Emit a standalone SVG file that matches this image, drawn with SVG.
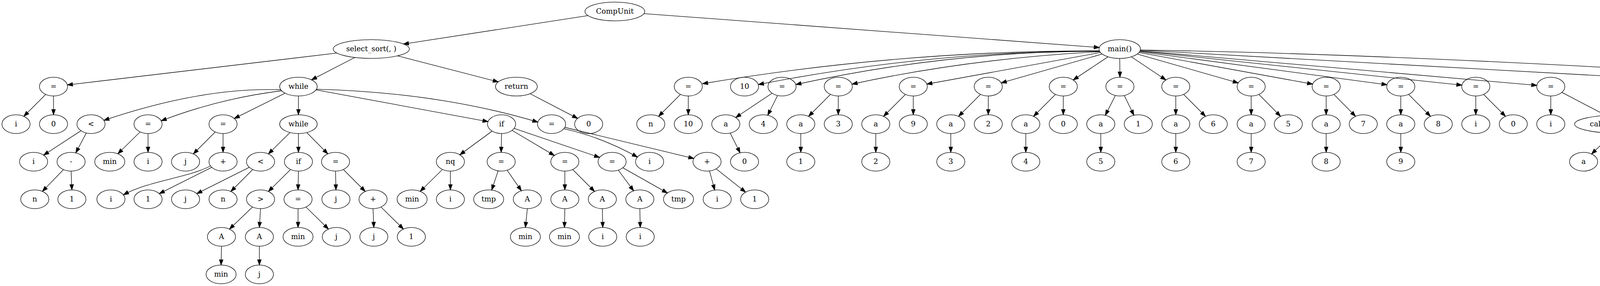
<svg xmlns="http://www.w3.org/2000/svg" width="5221" height="731" viewBox="0 0 5221 731">
<style>
.n ellipse{fill:none;stroke:#000;stroke-width:1.33}
.n text{font-family:"DejaVu Serif",serif;font-size:18.67px;text-anchor:middle;fill:#000}
.e path{fill:none;stroke:#000;stroke-width:1.33;marker-end:url(#ah)}
</style>
<defs>
<marker id="ah" markerUnits="userSpaceOnUse" viewBox="0 0 16 12" markerWidth="16" markerHeight="12" refX="14.33" refY="5.67" orient="auto" overflow="visible">
<path d="M1,1 L14.33,5.67 L1,10.33 Z" fill="#000" stroke="#000" stroke-width="1.33"/>
</marker>
</defs>
<rect width="5221" height="731" fill="#fff"/>
<g id="edges" class="e">
<path d="M1505.3,39.9 L1032.7,112.6"/>
<path d="M1648.5,34.8 L2814.2,121.4"/>
<path d="M862.1,135.7 L172.5,217.1"/>
<path d="M908,147 L797.4,204.1"/>
<path d="M1017.3,142.7 L1275.6,209.3"/>
<path d="M1357,239.5 L1478.6,302.6"/>
<path d="M117,241.3 L61,297.3"/>
<path d="M137,245.3 L137,293.3"/>
<path d="M718.9,229.5 Q520,222 266,307.6"/>
<path d="M721,232 Q560,252 412.7,308.9"/>
<path d="M730,238.2 L599.8,302.9"/>
<path d="M764,245.3 L764,293.3"/>
<path d="M809,229.6 L1249.3,310.9"/>
<path d="M810,228.1 Q1122,236 1376.9,312.1"/>
<path d="M207.3,334.1 L111.7,396.5"/>
<path d="M221,339.9 L194,390.7"/>
<path d="M358.75,337.1 L301.7,393.1"/>
<path d="M379,341.3 L379,389.3"/>
<path d="M551,337.3 L495,393.3"/>
<path d="M571,341.3 L571,389.3"/>
<path d="M742.35,338.7 L687.1,393.4"/>
<path d="M764,341.3 L764,389.3"/>
<path d="M785.3,338.8 L839.2,393.3"/>
<path d="M1259.8,335.1 L1177.2,395.6"/>
<path d="M1284,341.3 L1283,389.3"/>
<path d="M1310.9,333.2 L1419.1,397.4"/>
<path d="M1316.1,328.2 L1534.9,402.4"/>
<path d="M1443.2,329.2 Q1540,350 1631.8,401.4"/>
<path d="M1445.9,325.5 L1776.2,405.1"/>
<path d="M162.5,433.5 L108.5,489.1"/>
<path d="M182,437.3 L184,485.3"/>
<path d="M539,424 C480,455 380,462 316,498"/>
<path d="M542.2,427.7 L407.8,494.9"/>
<path d="M638.2,427.7 L503.8,494.9"/>
<path d="M647,433.3 L591,489.3"/>
<path d="M743.9,433.2 L687.1,489.4"/>
<path d="M764,437.3 L763,485.3"/>
<path d="M859,437.3 L860,485.3"/>
<path d="M879,433.3 L935,489.3"/>
<path d="M1132.75,433.1 L1075.7,489.1"/>
<path d="M1153,437.3 L1153,485.3"/>
<path d="M1275.2,436.7 L1258.8,485.8"/>
<path d="M1298.2,435.1 L1334.8,487.5"/>
<path d="M1446,437.3 L1446,485.3"/>
<path d="M1466,433.3 L1522,489.3"/>
<path d="M1582.9,434.8 L1622.1,487.8"/>
<path d="M1594.5,428.8 L1708.5,493.2"/>
<path d="M1816.4,436.9 L1829.6,485.7"/>
<path d="M1833.3,431.6 L1908.7,491"/>
<path d="M646.5,529 L587.5,585.6"/>
<path d="M667,533.3 L664,581.3"/>
<path d="M763,533.3 L763,581.3"/>
<path d="M783.3,529.1 L840.8,585.5"/>
<path d="M955,533.3 L957,581.3"/>
<path d="M975.3,529.1 L1032.8,585.5"/>
<path d="M1350,533.3 L1345,581.3"/>
<path d="M1446,533.3 L1445,581.3"/>
<path d="M1542,533.3 L1543,581.3"/>
<path d="M1638,533.3 L1639,581.3"/>
<path d="M567,629.3 L566,677.3"/>
<path d="M664,629.3 L664,677.3"/>
<path d="M2814.5,129.8 Q2306,129 1798.5,214"/>
<path d="M2814.75,130.5 Q2378,130.5 1941.6,216"/>
<path d="M2815,131 Q2426,131 2037.5,216"/>
<path d="M2815.65,132.1 Q2480,150 2181.3,215"/>
<path d="M2817.3,134.2 L2372.7,215"/>
<path d="M2821.65,138.1 L2563.1,211.9"/>
<path d="M2836.65,145.1 L2747.5,204.4"/>
<path d="M2866.5,149.3 L2867,197.3"/>
<path d="M2896.2,145.2 L2984.6,204.3"/>
<path d="M2911.35,138.1 L3169.9,211.9"/>
<path d="M2915.7,134.2 L3360.3,215"/>
<path d="M2917.35,132.1 L3550.7,216.6"/>
<path d="M2918.1,130.7 L3742.4,217.6"/>
<path d="M2918.5,129.8 L3934.3,218.2"/>
<path d="M2919.1,128.2 L4552.8,218.7"/>
<path d="M2919.2,127.8 Q3700,140 4875.8,218.8"/>
<path d="M1742,241.3 L1686,297.3"/>
<path d="M1762,245.3 L1762,293.3"/>
<path d="M1976.5,238.3 L1883.5,300.3"/>
<path d="M1990.6,244.1 L1965.4,294.5"/>
<path d="M1869.4,340.1 L1894.6,390.5"/>
<path d="M2126,241.3 L2070,297.3"/>
<path d="M2146,245.3 L2146,293.3"/>
<path d="M2050,341.3 L2050,389.3"/>
<path d="M2318,241.3 L2262,297.3"/>
<path d="M2338,245.3 L2338,293.3"/>
<path d="M2242,341.3 L2242,389.3"/>
<path d="M2510,241.3 L2454,297.3"/>
<path d="M2530,245.3 L2530,293.3"/>
<path d="M2434,341.3 L2434,389.3"/>
<path d="M2702,241.3 L2646,297.3"/>
<path d="M2722,245.3 L2722,293.3"/>
<path d="M2626,341.3 L2626,389.3"/>
<path d="M2855.4,244 L2829.6,294.6"/>
<path d="M2878.2,244.1 L2902.8,294.5"/>
<path d="M2818,341.3 L2818,389.3"/>
<path d="M3010,245.3 L3010,293.3"/>
<path d="M3030,241.3 L3086,297.3"/>
<path d="M3010,341.3 L3010,389.3"/>
<path d="M3203,245.3 L3203,293.3"/>
<path d="M3222.8,241.3 L3278.2,297.3"/>
<path d="M3203,341.3 L3203,389.3"/>
<path d="M3395,245.3 L3395,293.3"/>
<path d="M3414.8,241.3 L3470.2,297.3"/>
<path d="M3395,341.3 L3395,389.3"/>
<path d="M3586,245.3 L3586,293.3"/>
<path d="M3606,241.3 L3662,297.3"/>
<path d="M3586,341.3 L3586,389.3"/>
<path d="M3778,245.3 L3778,293.3"/>
<path d="M3798,241.3 L3854,297.3"/>
<path d="M3970,245.3 L3970,293.3"/>
<path d="M3998.35,236.1 L4110.9,294.8"/>
<path d="M4129.5,340.8 L4074.5,393.6"/>
<path d="M4153,341.3 L4150,389.3"/>
<path d="M4562,235.6 L4373.4,305.6"/>
<path d="M4571.6,240.5 L4480.5,300.4"/>
<path d="M4600.5,245.3 L4600.5,293.3"/>
<path d="M4629.7,240.4 L4721.3,300.5"/>
<path d="M4640.6,234.5 L4836,299.2"/>
<path d="M4644.4,231 Q4825,243 5007.4,301.9"/>
<path d="M4965.8,238.7 L5102.6,303.4"/>
<path d="M4322,337.3 L4266,393.3"/>
<path d="M4342,341.3 L4342,389.3"/>
<path d="M4451.3,341.2 L4443.7,389.4"/>
<path d="M4473.1,338 L4520.9,392.6"/>
<path d="M4609.9,341.2 L4628.8,390"/>
<path d="M4745.3,341.3 L4741.7,389.3"/>
<path d="M4766.2,337.6 L4818.8,393"/>
<path d="M4902.4,341.1 L4926,390.3"/>
<path d="M5035,341.3 L5035,389.3"/>
<path d="M5055.1,337.2 L5111.9,393.4"/>
<path d="M4539,437.3 L4540,485.3"/>
<path d="M5120.6,436.1 L5095.4,486.5"/>
<path d="M5143.4,436.1 L5168.6,486.5"/>
</g>
<g id="nodes">
<g id="n0" class="n"><ellipse cx="1574" cy="29.3" rx="76.5" ry="24"/><text x="1574" y="34.8">CompUnit</text></g>
<g id="n1" class="n"><ellipse cx="950.5" cy="125.3" rx="97.5" ry="24"/><text x="950.5" y="130.8">select_sort(, )</text></g>
<g id="n2" class="n"><ellipse cx="2866.5" cy="125.3" rx="53" ry="24"/><text x="2866.5" y="130.8">main()</text></g>
<g id="n3" class="n"><ellipse cx="137" cy="221.3" rx="36" ry="24"/><text x="137" y="226.8">=</text></g>
<g id="n4" class="n"><ellipse cx="764" cy="221.3" rx="48" ry="24"/><text x="764" y="226.8">while</text></g>
<g id="n5" class="n"><ellipse cx="1322" cy="221.3" rx="53.5" ry="24"/><text x="1322" y="226.8">return</text></g>
<g id="n6" class="n"><ellipse cx="1762" cy="221.3" rx="36" ry="24"/><text x="1762" y="226.8">=</text></g>
<g id="n7" class="n"><ellipse cx="1906" cy="221.3" rx="36" ry="24"/><text x="1906" y="226.8">10</text></g>
<g id="n8" class="n"><ellipse cx="2002" cy="221.3" rx="36" ry="24"/><text x="2002" y="226.8">=</text></g>
<g id="n9" class="n"><ellipse cx="2146" cy="221.3" rx="36" ry="24"/><text x="2146" y="226.8">=</text></g>
<g id="n10" class="n"><ellipse cx="2338" cy="221.3" rx="36" ry="24"/><text x="2338" y="226.8">=</text></g>
<g id="n11" class="n"><ellipse cx="2530" cy="221.3" rx="36" ry="24"/><text x="2530" y="226.8">=</text></g>
<g id="n12" class="n"><ellipse cx="2722" cy="221.3" rx="36" ry="24"/><text x="2722" y="226.8">=</text></g>
<g id="n13" class="n"><ellipse cx="2867" cy="221.3" rx="36" ry="24"/><text x="2867" y="226.8">=</text></g>
<g id="n14" class="n"><ellipse cx="3010" cy="221.3" rx="36" ry="24"/><text x="3010" y="226.8">=</text></g>
<g id="n15" class="n"><ellipse cx="3203" cy="221.3" rx="36" ry="24"/><text x="3203" y="226.8">=</text></g>
<g id="n16" class="n"><ellipse cx="3395" cy="221.3" rx="36" ry="24"/><text x="3395" y="226.8">=</text></g>
<g id="n17" class="n"><ellipse cx="3586" cy="221.3" rx="36" ry="24"/><text x="3586" y="226.8">=</text></g>
<g id="n18" class="n"><ellipse cx="3778" cy="221.3" rx="36" ry="24"/><text x="3778" y="226.8">=</text></g>
<g id="n19" class="n"><ellipse cx="3970" cy="221.3" rx="36" ry="24"/><text x="3970" y="226.8">=</text></g>
<g id="n20" class="n"><ellipse cx="4600.5" cy="221.3" rx="48" ry="24"/><text x="4600.5" y="226.8">while</text></g>
<g id="n21" class="n"><ellipse cx="4929" cy="221.3" rx="53.5" ry="24"/><text x="4929" y="226.8">return</text></g>
<g id="n22" class="n"><ellipse cx="41" cy="317.3" rx="36" ry="24"/><text x="41" y="322.8">i</text></g>
<g id="n23" class="n"><ellipse cx="137" cy="317.3" rx="36" ry="24"/><text x="137" y="322.8">0</text></g>
<g id="n24" class="n"><ellipse cx="233" cy="317.3" rx="36" ry="24"/><text x="233" y="322.8">&lt;</text></g>
<g id="n25" class="n"><ellipse cx="379" cy="317.3" rx="36" ry="24"/><text x="379" y="322.8">=</text></g>
<g id="n26" class="n"><ellipse cx="571" cy="317.3" rx="36" ry="24"/><text x="571" y="322.8">=</text></g>
<g id="n27" class="n"><ellipse cx="764" cy="317.3" rx="48" ry="24"/><text x="764" y="322.8">while</text></g>
<g id="n28" class="n"><ellipse cx="1284" cy="317.3" rx="36" ry="24"/><text x="1284" y="322.8">if</text></g>
<g id="n29" class="n"><ellipse cx="1412" cy="317.3" rx="36" ry="24"/><text x="1412" y="322.8">=</text></g>
<g id="n30" class="n"><ellipse cx="1507" cy="317.3" rx="36" ry="24"/><text x="1507" y="322.8">0</text></g>
<g id="n31" class="n"><ellipse cx="1666" cy="317.3" rx="36" ry="24"/><text x="1666" y="322.8">n</text></g>
<g id="n32" class="n"><ellipse cx="1762" cy="317.3" rx="36" ry="24"/><text x="1762" y="322.8">10</text></g>
<g id="n33" class="n"><ellipse cx="1858" cy="317.3" rx="36" ry="24"/><text x="1858" y="322.8">a</text></g>
<g id="n34" class="n"><ellipse cx="1954" cy="317.3" rx="36" ry="24"/><text x="1954" y="322.8">4</text></g>
<g id="n35" class="n"><ellipse cx="2050" cy="317.3" rx="36" ry="24"/><text x="2050" y="322.8">a</text></g>
<g id="n36" class="n"><ellipse cx="2146" cy="317.3" rx="36" ry="24"/><text x="2146" y="322.8">3</text></g>
<g id="n37" class="n"><ellipse cx="2242" cy="317.3" rx="36" ry="24"/><text x="2242" y="322.8">a</text></g>
<g id="n38" class="n"><ellipse cx="2338" cy="317.3" rx="36" ry="24"/><text x="2338" y="322.8">9</text></g>
<g id="n39" class="n"><ellipse cx="2434" cy="317.3" rx="36" ry="24"/><text x="2434" y="322.8">a</text></g>
<g id="n40" class="n"><ellipse cx="2530" cy="317.3" rx="36" ry="24"/><text x="2530" y="322.8">2</text></g>
<g id="n41" class="n"><ellipse cx="2626" cy="317.3" rx="36" ry="24"/><text x="2626" y="322.8">a</text></g>
<g id="n42" class="n"><ellipse cx="2722" cy="317.3" rx="36" ry="24"/><text x="2722" y="322.8">0</text></g>
<g id="n43" class="n"><ellipse cx="2818" cy="317.3" rx="36" ry="24"/><text x="2818" y="322.8">a</text></g>
<g id="n44" class="n"><ellipse cx="2914" cy="317.3" rx="36" ry="24"/><text x="2914" y="322.8">1</text></g>
<g id="n45" class="n"><ellipse cx="3010" cy="317.3" rx="36" ry="24"/><text x="3010" y="322.8">a</text></g>
<g id="n46" class="n"><ellipse cx="3106" cy="317.3" rx="36" ry="24"/><text x="3106" y="322.8">6</text></g>
<g id="n47" class="n"><ellipse cx="3203" cy="317.3" rx="36" ry="24"/><text x="3203" y="322.8">a</text></g>
<g id="n48" class="n"><ellipse cx="3298" cy="317.3" rx="36" ry="24"/><text x="3298" y="322.8">5</text></g>
<g id="n49" class="n"><ellipse cx="3395" cy="317.3" rx="36" ry="24"/><text x="3395" y="322.8">a</text></g>
<g id="n50" class="n"><ellipse cx="3490" cy="317.3" rx="36" ry="24"/><text x="3490" y="322.8">7</text></g>
<g id="n51" class="n"><ellipse cx="3586" cy="317.3" rx="36" ry="24"/><text x="3586" y="322.8">a</text></g>
<g id="n52" class="n"><ellipse cx="3682" cy="317.3" rx="36" ry="24"/><text x="3682" y="322.8">8</text></g>
<g id="n53" class="n"><ellipse cx="3778" cy="317.3" rx="36" ry="24"/><text x="3778" y="322.8">i</text></g>
<g id="n54" class="n"><ellipse cx="3874" cy="317.3" rx="36" ry="24"/><text x="3874" y="322.8">0</text></g>
<g id="n55" class="n"><ellipse cx="3970" cy="317.3" rx="36" ry="24"/><text x="3970" y="322.8">i</text></g>
<g id="n56" class="n"><ellipse cx="4154" cy="317.3" rx="123" ry="24"/><text x="4154" y="322.8">call select_sort(, )</text></g>
<g id="n57" class="n"><ellipse cx="4342" cy="317.3" rx="36" ry="24"/><text x="4342" y="322.8">&lt;</text></g>
<g id="n58" class="n"><ellipse cx="4455" cy="317.3" rx="36" ry="24"/><text x="4455" y="322.8">=</text></g>
<g id="n59" class="n"><ellipse cx="4600.5" cy="317.3" rx="86.5" ry="24"/><text x="4600.5" y="322.8">call putint()</text></g>
<g id="n60" class="n"><ellipse cx="4747" cy="317.3" rx="36" ry="24"/><text x="4747" y="322.8">=</text></g>
<g id="n61" class="n"><ellipse cx="4891" cy="317.3" rx="84" ry="24"/><text x="4891" y="322.8">call putch()</text></g>
<g id="n62" class="n"><ellipse cx="5035" cy="317.3" rx="36" ry="24"/><text x="5035" y="322.8">=</text></g>
<g id="n63" class="n"><ellipse cx="5132" cy="317.3" rx="36" ry="24"/><text x="5132" y="322.8">0</text></g>
<g id="n64" class="n"><ellipse cx="86" cy="413.3" rx="36" ry="24"/><text x="86" y="418.8">i</text></g>
<g id="n65" class="n"><ellipse cx="182" cy="413.3" rx="36" ry="24"/><text x="182" y="418.8">-</text></g>
<g id="n66" class="n"><ellipse cx="281" cy="413.3" rx="38.5" ry="24"/><text x="281" y="418.8">min</text></g>
<g id="n67" class="n"><ellipse cx="379" cy="413.3" rx="36" ry="24"/><text x="379" y="418.8">i</text></g>
<g id="n68" class="n"><ellipse cx="475" cy="413.3" rx="36" ry="24"/><text x="475" y="418.8">j</text></g>
<g id="n69" class="n"><ellipse cx="571" cy="413.3" rx="36" ry="24"/><text x="571" y="418.8">+</text></g>
<g id="n70" class="n"><ellipse cx="667" cy="413.3" rx="36" ry="24"/><text x="667" y="418.8">&lt;</text></g>
<g id="n71" class="n"><ellipse cx="764" cy="413.3" rx="36" ry="24"/><text x="764" y="418.8">if</text></g>
<g id="n72" class="n"><ellipse cx="859" cy="413.3" rx="36" ry="24"/><text x="859" y="418.8">=</text></g>
<g id="n73" class="n"><ellipse cx="1153" cy="413.3" rx="36" ry="24"/><text x="1153" y="418.8">nq</text></g>
<g id="n74" class="n"><ellipse cx="1283" cy="413.3" rx="36" ry="24"/><text x="1283" y="418.8">=</text></g>
<g id="n75" class="n"><ellipse cx="1446" cy="413.3" rx="36" ry="24"/><text x="1446" y="418.8">=</text></g>
<g id="n76" class="n"><ellipse cx="1567" cy="413.3" rx="36" ry="24"/><text x="1567" y="418.8">=</text></g>
<g id="n77" class="n"><ellipse cx="1663" cy="413.3" rx="36" ry="24"/><text x="1663" y="418.8">i</text></g>
<g id="n78" class="n"><ellipse cx="1810" cy="413.3" rx="36" ry="24"/><text x="1810" y="418.8">+</text></g>
<g id="n79" class="n"><ellipse cx="1906" cy="413.3" rx="36" ry="24"/><text x="1906" y="418.8">0</text></g>
<g id="n80" class="n"><ellipse cx="2050" cy="413.3" rx="36" ry="24"/><text x="2050" y="418.8">1</text></g>
<g id="n81" class="n"><ellipse cx="2242" cy="413.3" rx="36" ry="24"/><text x="2242" y="418.8">2</text></g>
<g id="n82" class="n"><ellipse cx="2434" cy="413.3" rx="36" ry="24"/><text x="2434" y="418.8">3</text></g>
<g id="n83" class="n"><ellipse cx="2626" cy="413.3" rx="36" ry="24"/><text x="2626" y="418.8">4</text></g>
<g id="n84" class="n"><ellipse cx="2818" cy="413.3" rx="36" ry="24"/><text x="2818" y="418.8">5</text></g>
<g id="n85" class="n"><ellipse cx="3010" cy="413.3" rx="36" ry="24"/><text x="3010" y="418.8">6</text></g>
<g id="n86" class="n"><ellipse cx="3203" cy="413.3" rx="36" ry="24"/><text x="3203" y="418.8">7</text></g>
<g id="n87" class="n"><ellipse cx="3395" cy="413.3" rx="36" ry="24"/><text x="3395" y="418.8">8</text></g>
<g id="n88" class="n"><ellipse cx="3586" cy="413.3" rx="36" ry="24"/><text x="3586" y="418.8">9</text></g>
<g id="n89" class="n"><ellipse cx="4054" cy="413.3" rx="36" ry="24"/><text x="4054" y="418.8">a</text></g>
<g id="n90" class="n"><ellipse cx="4150" cy="413.3" rx="36" ry="24"/><text x="4150" y="418.8">n</text></g>
<g id="n91" class="n"><ellipse cx="4246" cy="413.3" rx="36" ry="24"/><text x="4246" y="418.8">i</text></g>
<g id="n92" class="n"><ellipse cx="4342" cy="413.3" rx="36" ry="24"/><text x="4342" y="418.8">n</text></g>
<g id="n93" class="n"><ellipse cx="4440" cy="413.3" rx="38.5" ry="24"/><text x="4440" y="418.8">tmp</text></g>
<g id="n94" class="n"><ellipse cx="4539" cy="413.3" rx="36" ry="24"/><text x="4539" y="418.8">a</text></g>
<g id="n95" class="n"><ellipse cx="4638" cy="413.3" rx="38.5" ry="24"/><text x="4638" y="418.8">tmp</text></g>
<g id="n96" class="n"><ellipse cx="4740" cy="413.3" rx="38.5" ry="24"/><text x="4740" y="418.8">tmp</text></g>
<g id="n97" class="n"><ellipse cx="4838" cy="413.3" rx="36" ry="24"/><text x="4838" y="418.8">10</text></g>
<g id="n98" class="n"><ellipse cx="4937" cy="413.3" rx="38.5" ry="24"/><text x="4937" y="418.8">tmp</text></g>
<g id="n99" class="n"><ellipse cx="5035" cy="413.3" rx="36" ry="24"/><text x="5035" y="418.8">i</text></g>
<g id="n100" class="n"><ellipse cx="5132" cy="413.3" rx="36" ry="24"/><text x="5132" y="418.8">+</text></g>
<g id="n101" class="n"><ellipse cx="89" cy="509.3" rx="36" ry="24"/><text x="89" y="514.8">n</text></g>
<g id="n102" class="n"><ellipse cx="184" cy="509.3" rx="36" ry="24"/><text x="184" y="514.8">1</text></g>
<g id="n103" class="n"><ellipse cx="284" cy="509.3" rx="36" ry="24"/><text x="284" y="514.8">i</text></g>
<g id="n104" class="n"><ellipse cx="379" cy="509.3" rx="36" ry="24"/><text x="379" y="514.8">1</text></g>
<g id="n105" class="n"><ellipse cx="475" cy="509.3" rx="36" ry="24"/><text x="475" y="514.8">j</text></g>
<g id="n106" class="n"><ellipse cx="571" cy="509.3" rx="36" ry="24"/><text x="571" y="514.8">n</text></g>
<g id="n107" class="n"><ellipse cx="667" cy="509.3" rx="36" ry="24"/><text x="667" y="514.8">&gt;</text></g>
<g id="n108" class="n"><ellipse cx="763" cy="509.3" rx="36" ry="24"/><text x="763" y="514.8">=</text></g>
<g id="n109" class="n"><ellipse cx="860" cy="509.3" rx="36" ry="24"/><text x="860" y="514.8">j</text></g>
<g id="n110" class="n"><ellipse cx="955" cy="509.3" rx="36" ry="24"/><text x="955" y="514.8">+</text></g>
<g id="n111" class="n"><ellipse cx="1055" cy="509.3" rx="38.5" ry="24"/><text x="1055" y="514.8">min</text></g>
<g id="n112" class="n"><ellipse cx="1153" cy="509.3" rx="36" ry="24"/><text x="1153" y="514.8">i</text></g>
<g id="n113" class="n"><ellipse cx="1251" cy="509.3" rx="38.5" ry="24"/><text x="1251" y="514.8">tmp</text></g>
<g id="n114" class="n"><ellipse cx="1350" cy="509.3" rx="36" ry="24"/><text x="1350" y="514.8">A</text></g>
<g id="n115" class="n"><ellipse cx="1446" cy="509.3" rx="36" ry="24"/><text x="1446" y="514.8">A</text></g>
<g id="n116" class="n"><ellipse cx="1542" cy="509.3" rx="36" ry="24"/><text x="1542" y="514.8">A</text></g>
<g id="n117" class="n"><ellipse cx="1638" cy="509.3" rx="36" ry="24"/><text x="1638" y="514.8">A</text></g>
<g id="n118" class="n"><ellipse cx="1737" cy="509.3" rx="38.5" ry="24"/><text x="1737" y="514.8">tmp</text></g>
<g id="n119" class="n"><ellipse cx="1836" cy="509.3" rx="36" ry="24"/><text x="1836" y="514.8">i</text></g>
<g id="n120" class="n"><ellipse cx="1932" cy="509.3" rx="36" ry="24"/><text x="1932" y="514.8">1</text></g>
<g id="n121" class="n"><ellipse cx="4540" cy="509.3" rx="36" ry="24"/><text x="4540" y="514.8">i</text></g>
<g id="n122" class="n"><ellipse cx="5084" cy="509.3" rx="36" ry="24"/><text x="5084" y="514.8">i</text></g>
<g id="n123" class="n"><ellipse cx="5180" cy="509.3" rx="36" ry="24"/><text x="5180" y="514.8">1</text></g>
<g id="n124" class="n"><ellipse cx="567" cy="605.3" rx="36" ry="24"/><text x="567" y="610.8">A</text></g>
<g id="n125" class="n"><ellipse cx="664" cy="605.3" rx="36" ry="24"/><text x="664" y="610.8">A</text></g>
<g id="n126" class="n"><ellipse cx="763" cy="605.3" rx="38.5" ry="24"/><text x="763" y="610.8">min</text></g>
<g id="n127" class="n"><ellipse cx="861" cy="605.3" rx="36" ry="24"/><text x="861" y="610.8">j</text></g>
<g id="n128" class="n"><ellipse cx="957" cy="605.3" rx="36" ry="24"/><text x="957" y="610.8">j</text></g>
<g id="n129" class="n"><ellipse cx="1053" cy="605.3" rx="36" ry="24"/><text x="1053" y="610.8">1</text></g>
<g id="n130" class="n"><ellipse cx="1345" cy="605.3" rx="38.5" ry="24"/><text x="1345" y="610.8">min</text></g>
<g id="n131" class="n"><ellipse cx="1445" cy="605.3" rx="38.5" ry="24"/><text x="1445" y="610.8">min</text></g>
<g id="n132" class="n"><ellipse cx="1543" cy="605.3" rx="36" ry="24"/><text x="1543" y="610.8">i</text></g>
<g id="n133" class="n"><ellipse cx="1639" cy="605.3" rx="36" ry="24"/><text x="1639" y="610.8">i</text></g>
<g id="n134" class="n"><ellipse cx="566" cy="701.3" rx="38.5" ry="24"/><text x="566" y="706.8">min</text></g>
<g id="n135" class="n"><ellipse cx="664" cy="701.3" rx="36" ry="24"/><text x="664" y="706.8">j</text></g>
</g>
</svg>
